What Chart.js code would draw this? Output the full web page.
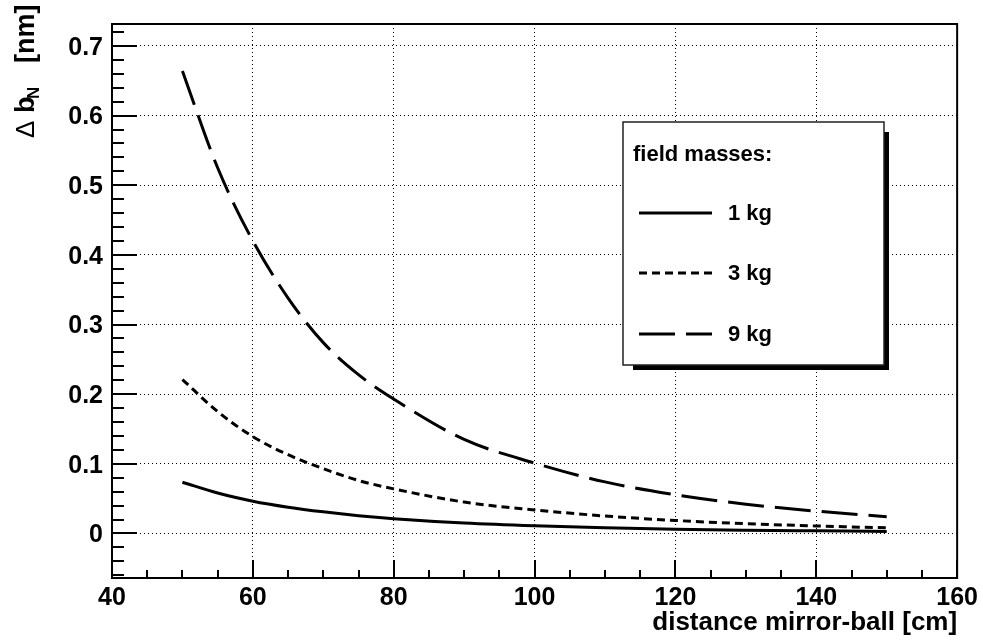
<!DOCTYPE html>
<html>
<head>
<meta charset="utf-8">
<script src="https://cdn.jsdelivr.net/npm/chart.js@4/dist/chart.umd.min.js"></script>
<style>
  html, body { margin: 0; padding: 0; background: #fff; }
</style>
</head>
<body>
<canvas id="myChart" width="983" height="641"></canvas>
<script>
// distance mirror-ball [cm]
const distances = [50, 55, 60, 65, 70, 75, 80, 90, 100, 110, 120, 130, 140, 150];

// delta b_N [nm] per field mass
const mass1kg = [0.0735, 0.058, 0.0463, 0.0377, 0.031, 0.0255, 0.0212, 0.015, 0.011, 0.0083, 0.0061, 0.0047, 0.0037, 0.0028];
const mass3kg = [0.221, 0.175, 0.139, 0.113, 0.093, 0.076, 0.064, 0.045, 0.0338, 0.025, 0.0186, 0.014, 0.0107, 0.008];
const mass9kg = [0.664, 0.525, 0.42, 0.338, 0.274, 0.228, 0.193, 0.135, 0.101, 0.074, 0.0555, 0.042, 0.032, 0.024];

const seriesLabels = ['1 kg', '3 kg', '9 kg'];
const xTicks = [40, 60, 80, 100, 120, 140, 160];
const yTicks = [0, 0.1, 0.2, 0.3, 0.4, 0.5, 0.6, 0.7];

const FONT = "'Liberation Sans', Arial, Helvetica, sans-serif";

function toPoints(ys) {
  return distances.map(function (d, i) { return { x: d, y: ys[i] }; });
}

// inward ticks + frame, ROOT style
const frameTicks = {
  id: 'frameTicks',
  afterDatasetsDraw(chart) {
    const ctx = chart.ctx;
    const a = chart.chartArea;
    const xs = chart.scales.x, ys = chart.scales.y;
    ctx.save();
    ctx.strokeStyle = '#000';
    ctx.lineWidth = 2;
    ctx.beginPath();
    for (let v = xs.min; v <= xs.max + 0.001; v += 5) {
      const px = Math.round(xs.getPixelForValue(v));
      const len = (v % 20 === 0) ? 18 : 8;
      ctx.moveTo(px, a.bottom);
      ctx.lineTo(px, a.bottom - len);
    }
    for (let k = -3; k <= 36; k++) {
      const v = k * 0.02;
      if (v < ys.min || v > ys.max) continue;
      const py = Math.round(ys.getPixelForValue(v));
      const len = (k % 5 === 0) ? 25 : 12;
      ctx.moveTo(a.left, py);
      ctx.lineTo(a.left + len, py);
    }
    ctx.stroke();
    ctx.strokeRect(a.left, a.top, a.right - a.left, a.bottom - a.top);

    // y axis title with subscript
    ctx.fillStyle = '#000';
    ctx.translate(34, 138);
    ctx.rotate(-Math.PI / 2);
    ctx.textBaseline = 'alphabetic';
    ctx.textAlign = 'left';
    ctx.font = '26px ' + FONT;
    ctx.fillText('\u0394', 0, 0);
    ctx.font = 'bold 27px ' + FONT;
    ctx.fillText('b', 25, 0);
    ctx.font = 'bold 17px ' + FONT;
    ctx.fillText('N', 39, 5);
    ctx.font = 'bold 27px ' + FONT;
    ctx.fillText('[nm]', 75, 0);
    ctx.restore();
  }
};

// boxed legend with shadow
const boxLegend = {
  id: 'boxLegend',
  afterDraw(chart) {
    const ctx = chart.ctx;
    const bx = 623, by = 122, bw = 261, bh = 243;
    ctx.save();
    ctx.fillStyle = '#000';
    ctx.fillRect(bx + 10, by + bh, bw - 5, 5);
    ctx.fillRect(bx + bw, by + 10, 5, bh - 5);
    ctx.fillStyle = '#fff';
    ctx.fillRect(bx, by, bw, bh);
    ctx.strokeStyle = '#222';
    ctx.lineWidth = 1.5;
    ctx.strokeRect(bx, by, bw, bh);

    ctx.fillStyle = '#000';
    ctx.textBaseline = 'middle';
    ctx.font = 'bold 22px ' + FONT;
    ctx.fillText('field masses:', 633, 155);

    const rows = [213, 273, 334];
    chart.data.datasets.forEach(function (ds, i) {
      ctx.strokeStyle = '#000';
      ctx.lineWidth = 3;
      ctx.setLineDash(ds.borderDash || []);
      ctx.beginPath();
      ctx.moveTo(639, rows[i]);
      ctx.lineTo(712, rows[i]);
      ctx.stroke();
      ctx.setLineDash([]);
      ctx.fillText(ds.label, 728, rows[i] + 1);
    });
    ctx.restore();
  }
};

const ctx = document.getElementById('myChart').getContext('2d');
const myChart = new Chart(ctx, {
  type: 'line',
  data: {
    datasets: [
      { label: seriesLabels[0], data: toPoints(mass1kg), borderDash: [] },
      { label: seriesLabels[1], data: toPoints(mass3kg), borderDash: [8, 5] },
      { label: seriesLabels[2], data: toPoints(mass9kg), borderDash: [36, 11] }
    ].map(function (ds) {
      ds.borderColor = '#000';
      ds.borderWidth = 3;
      ds.pointRadius = 0;
      ds.fill = false;
      ds.cubicInterpolationMode = 'monotone';
      return ds;
    })
  },
  options: {
    responsive: false,
    animation: false,
    layout: { padding: { left: 0, top: 4, right: 25, bottom: 0 } },
    plugins: { legend: { display: false }, tooltip: { enabled: false } },
    scales: {
      x: {
        type: 'linear',
        min: 40,
        max: 160,
        afterBuildTicks: function (scale) { scale.ticks = xTicks.map(function (v) { return { value: v }; }); },
        afterFit: function (scale) { scale.height = 63; },
        grid: { color: '#000', lineWidth: 1, drawTicks: false },
        border: { display: false, dash: [1, 3] },
        ticks: {
          color: '#000',
          padding: 5,
          maxRotation: 0,
          font: { family: FONT, weight: 'bold', size: 25 }
        },
        title: {
          display: true,
          text: 'distance mirror-ball [cm]',
          align: 'end',
          color: '#000',
          padding: { top: 0, bottom: 3 },
          font: { family: FONT, weight: 'bold', size: 26 }
        }
      },
      y: {
        type: 'linear',
        min: -0.064,
        max: 0.7315,
        afterBuildTicks: function (scale) { scale.ticks = yTicks.map(function (v) { return { value: v }; }); },
        afterFit: function (scale) { scale.width = 112; },
        grid: { color: '#000', lineWidth: 1, drawTicks: false },
        border: { display: false, dash: [1, 3] },
        ticks: {
          color: '#000',
          padding: 9,
          labelOffset: 2,
          font: { family: FONT, weight: 'bold', size: 25 },
          callback: function (v) { return v === 0 ? '0' : v.toFixed(1); }
        }
      }
    }
  },
  plugins: [frameTicks, boxLegend]
});
</script>
</body>
</html>
